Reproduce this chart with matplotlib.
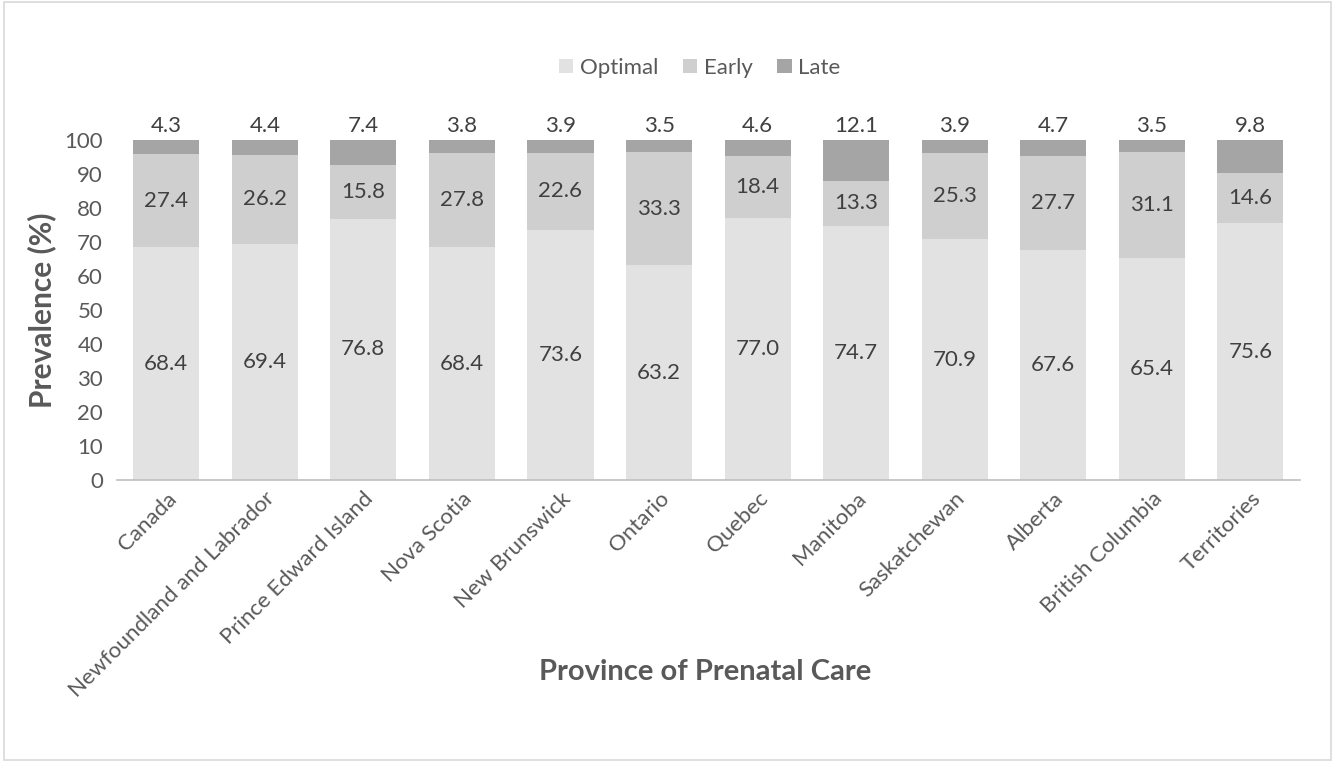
import matplotlib
matplotlib.use("Agg")
import matplotlib.pyplot as plt
from matplotlib.patches import Rectangle
import numpy as np

categories = ["Canada", "Newfoundland and Labrador", "Prince Edward Island", "Nova Scotia",
              "New Brunswick", "Ontario", "Quebec", "Manitoba", "Saskatchewan", "Alberta",
              "British Columbia", "Territories"]
optimal = [68.4, 69.4, 76.8, 68.4, 73.6, 63.2, 77.0, 74.7, 70.9, 67.6, 65.4, 75.6]
early = [27.4, 26.2, 15.8, 27.8, 22.6, 33.3, 18.4, 13.3, 25.3, 27.7, 31.1, 14.6]
late = [4.3, 4.4, 7.4, 3.8, 3.9, 3.5, 4.6, 12.1, 3.9, 4.7, 3.5, 9.8]
series_names = ["Optimal", "Early", "Late"]
colors = ["#E2E2E2", "#CFCFCF", "#A5A5A5"]
txt = "#595959"
lbl = "#404040"

plt.rcParams['font.family'] = ['Lato', 'DejaVu Sans']

fig = plt.figure(figsize=(13.38, 7.62), dpi=100)
ax = fig.add_axes([0.0874, 0.370, 0.884, 0.4463])

x = np.arange(len(categories))
w = 0.67
opt = np.array(optimal); ear = np.array(early); lat = np.array(late)
b1 = ax.bar(x, opt, w, color=colors[0], label=series_names[0])
b2 = ax.bar(x, ear, w, bottom=opt, color=colors[1], label=series_names[1])
b3 = ax.bar(x, lat, w, bottom=opt + ear, color=colors[2], label=series_names[2])

for i in range(len(x)):
    ax.text(x[i], opt[i] / 2, f"{opt[i]:.1f}", ha='center', va='center', fontsize=16, color=lbl)
    ax.text(x[i], opt[i] + ear[i] / 2, f"{ear[i]:.1f}", ha='center', va='center', fontsize=16, color=lbl)
    ax.text(x[i], 101.3, f"{lat[i]:.1f}", ha='center', va='bottom', fontsize=16, color=lbl, clip_on=False)

ax.set_ylim(0, 100)
ax.set_xlim(-0.5, 11.5)
ax.set_yticks(np.arange(0, 101, 10))
ax.tick_params(axis='y', length=0, labelsize=16, labelcolor=txt, pad=10)
ax.tick_params(axis='x', length=0, labelsize=16, labelcolor=txt, pad=6)
ax.set_xticks(x)
ax.set_xticklabels(categories, rotation=45, ha='right', rotation_mode='anchor')
for s in ['left', 'right', 'top']:
    ax.spines[s].set_visible(False)
ax.spines['bottom'].set_color('#BFBFBF')
ax.spines['bottom'].set_linewidth(1.2)

ax.set_ylabel("Prevalence (%)", fontsize=21.5, fontweight='bold', color=txt, labelpad=6)
fig.text(0.527, 0.118, "Province of Prenatal Care", fontsize=21, fontweight='bold', color=txt,
         ha='center', va='center')

leg = fig.legend(handles=[b1, b2, b3], labels=series_names, loc='center', bbox_to_anchor=(0.523, 0.911),
                 ncol=3, frameon=False, fontsize=16, handlelength=0.65, handleheight=0.65,
                 handletextpad=0.3, columnspacing=1.1)
for t in leg.get_texts():
    t.set_color(txt)

fig.patches.append(Rectangle((0.003, 0.003), 0.992, 0.994, transform=fig.transFigure,
                             fill=False, edgecolor='#D9D9D9', linewidth=1.2))

fig.savefig("out.png", dpi=100)
